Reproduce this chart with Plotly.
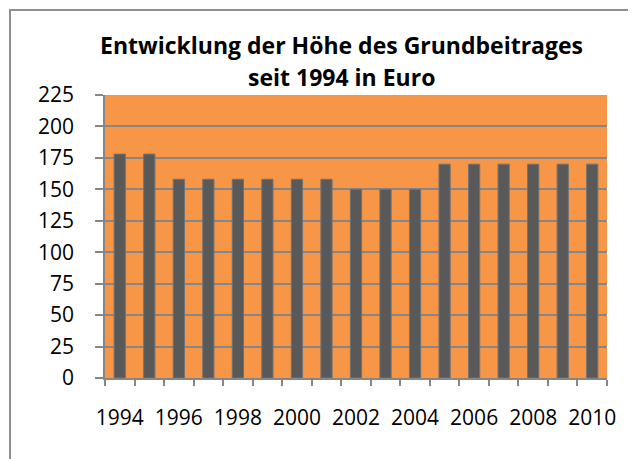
import plotly.graph_objects as go

years = [1994, 1995, 1996, 1997, 1998, 1999, 2000, 2001, 2002,
         2003, 2004, 2005, 2006, 2007, 2008, 2009, 2010]
beitrag = [178, 178, 158, 158, 158, 158, 158, 158, 150,
           150, 150, 170, 170, 170, 170, 170, 170]
x_labels = [str(y) for y in years if y % 2 == 0]
y_ticks = list(range(0, 226, 25))
title_lines = ["Entwicklung der Höhe des Grundbeitrages", "seit 1994 in Euro"]

W, H = 636, 459
OFF = 8  # page body margin
L, R, T, B = 105 - OFF, 37, 95 - OFF, 89
pw, ph = W - L - R, H - T - B

def px_x(px):
    return (px - OFF - L) / pw

def px_y(py):
    return (H - B - (py - OFF)) / ph

grey = "#868686"
font = "Open Sans"

fig = go.Figure(go.Bar(
    x=years, y=beitrag,
    width=0.38,
    marker=dict(color="#595959", line=dict(color="#727272", width=1)),
))

annotations = []
for text, cy in zip(title_lines, [45, 77]):
    annotations.append(dict(
        text=f"<b>{text}</b>", xref="paper", yref="paper",
        x=px_x(341), y=px_y(cy), xanchor="center", yanchor="middle",
        showarrow=False, font=dict(family=font, size=23, color="black"),
    ))

fig.update_layout(
    width=W, height=H,
    margin=dict(l=L, r=R, t=T, b=B),
    paper_bgcolor="white",
    plot_bgcolor="#F79646",
    showlegend=False,
    annotations=annotations,
    xaxis=dict(
        range=[years[0] - 0.5, years[-1] + 0.5],
        tickvals=[int(v) for v in x_labels], ticktext=x_labels,
        ticks="", showgrid=False, zeroline=False,
        showline=True, linecolor=grey, linewidth=1.5,
        tickfont=dict(family=font, size=21, color="black"),
        ticklabelstandoff=20,
        minor=dict(ticks="outside", ticklen=6, tickcolor=grey, tickwidth=1.5,
                   tick0=years[0] - 0.5, dtick=1, showgrid=False),
    ),
    yaxis=dict(
        range=[0, 225], tickvals=y_ticks,
        ticks="outside", ticklen=8, tickcolor=grey, tickwidth=1.5,
        showgrid=True, gridcolor=grey, gridwidth=1.5,
        zeroline=False, showline=True, linecolor=grey, linewidth=1.5,
        tickfont=dict(family=font, size=21, color="black"),
        ticklabelstandoff=17,
    ),
    shapes=[
        dict(type="path", xref="paper", yref="paper",
             path=f"M {px_x(10)} {px_y(H + 20)} L {px_x(10)} {px_y(10)} L {px_x(W + 20)} {px_y(10)}",
             line=dict(color="#8E8E8E", width=2), layer="above"),
    ],
)

fig.write_html("out.html")
